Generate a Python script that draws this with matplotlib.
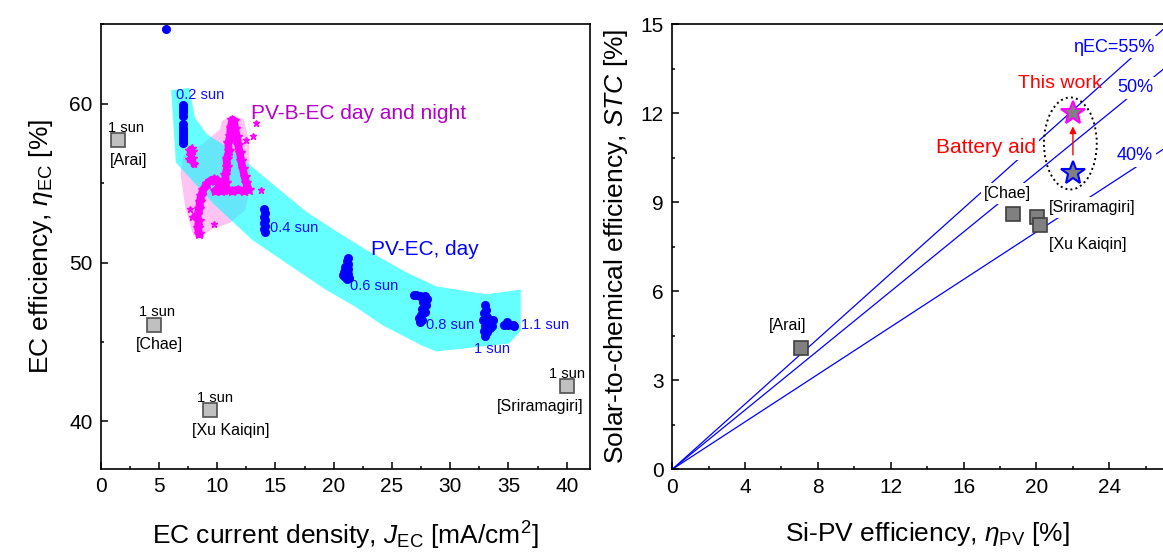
import numpy as np
import matplotlib.pyplot as plt
from matplotlib.patches import Polygon, Ellipse
from matplotlib.ticker import MultipleLocator

plt.rcParams['font.family'] = ['Liberation Sans', 'DejaVu Sans']
plt.rcParams['mathtext.fontset'] = 'custom'
plt.rcParams['mathtext.rm'] = 'Liberation Sans'
plt.rcParams['mathtext.it'] = 'Liberation Sans:italic'
plt.rcParams['mathtext.bf'] = 'Liberation Sans:bold'

# ---------------- left panel data ----------------
# literature points (1 sun)
ref_names = ['[Arai]', '[Chae]', '[Xu Kaiqin]', '[Sriramagiri]']
ref_j = [1.5, 4.6, 9.4, 40.0]
ref_eta = [57.7, 46.1, 40.7, 42.2]

# shaded band for PV-EC day
band_x = [6.05, 7.6, 8.1, 9.1, 11.4, 14.35, 17.65, 19.95, 22.9, 26.2, 28.8, 33.1, 36.05,
          36.05, 35.05, 28.8, 27.5, 24.2, 21.9, 19.3, 13.05, 9.75, 6.45]
band_y = [60.85, 61.0, 59.1, 58.1, 57.0, 55.2, 53.2, 52.1, 50.75, 49.4, 48.5, 48.0, 48.3,
          45.7, 44.9, 44.4, 44.8, 46.05, 47.2, 48.3, 51.4, 53.65, 56.3]

# shaded blob for PV-B-EC
blob_x = [10.4, 11.1, 12.25, 12.75, 12.8, 12.4, 11.1, 9.7, 8.5, 7.95, 7.25, 6.85, 7.1, 8.8, 10.25]
blob_y = [58.9, 59.25, 59.05, 57.7, 54.6, 53.3, 52.5, 52.15, 51.65, 51.7, 53.5, 55.6, 56.8, 57.5, 58.4]

# PV-EC day measured points, grouped by illumination
day_labels = ['0.2 sun', '0.4 sun', '0.6 sun', '0.8 sun', '1 sun', '1.1 sun']
day_x = [
    [5.6, 7.05, 7.1, 7.05, 7.1, 7.05, 7.05, 7.1, 7.05, 7.1, 7.05, 7.1, 7.05],
    [14.05, 14.1, 14.0, 14.1, 14.05, 14.1, 14.0, 14.1],
    [21.2, 21.1, 21.2, 21.0, 21.2, 20.9, 21.2, 21.0, 21.3, 21.1, 20.8],
    [26.85, 27.1, 27.4, 27.8, 28.0, 27.7, 27.9, 27.6, 27.8, 27.5, 27.3, 27.6, 27.4],
    [33.0, 33.1, 32.9, 33.2, 32.85, 33.1, 33.5, 33.0, 33.4, 32.9, 33.2, 33.0, 33.6, 33.65],
    [35.4, 35.5, 35.35, 34.6, 34.85, 35.0],
]
day_y = [
    [64.7, 59.95, 59.8, 59.65, 59.5, 59.2, 58.7, 58.5, 58.3, 58.1, 57.9, 57.7, 57.55],
    [53.35, 53.1, 52.9, 52.7, 52.5, 52.3, 52.1, 51.95],
    [50.3, 50.1, 49.9, 49.7, 49.6, 49.4, 49.3, 49.1, 49.0, 48.95, 49.2],
    [47.95, 47.95, 47.9, 47.9, 47.7, 47.5, 47.3, 47.1, 46.9, 46.7, 46.5, 46.4, 46.25],
    [47.3, 47.0, 46.8, 46.6, 46.4, 46.3, 46.3, 46.0, 45.9, 45.7, 45.6, 45.4, 46.0, 46.4],
    [46.05, 46.0, 46.1, 46.05, 46.25, 46.1],
]

# PV-B-EC day and night trajectory (main track, early cluster, stray points)
track_x = [8.45, 8.35, 8.4, 8.3, 8.45, 8.5, 8.6, 8.8, 9.1, 9.4, 9.7, 10.0, 10.2, 10.0, 9.8,
           10.3, 10.6, 10.75, 10.7, 10.85, 10.8, 11.0, 10.95, 11.1, 11.15, 11.3, 11.45, 11.55,
           11.7, 11.8, 11.95, 12.05, 12.2, 12.35, 12.5, 12.7, 12.3, 11.8, 11.3, 10.9]
track_y = [51.8, 52.2, 52.6, 53.0, 53.4, 53.8, 54.2, 54.6, 54.95, 55.15, 55.25, 55.2, 54.9, 54.6, 54.5,
           54.5, 54.6, 55.0, 55.5, 56.0, 56.5, 57.0, 57.5, 58.0, 58.5, 59.0, 58.9, 58.4,
           57.9, 57.4, 56.9, 56.4, 55.9, 55.4, 55.0, 54.6, 54.5, 54.6, 54.5, 54.6]
early_x = [7.8, 7.6, 7.9, 7.7, 7.9, 7.6, 7.9, 8.0]
early_y = [57.2, 57.1, 57.0, 56.8, 56.6, 56.5, 56.3, 56.2]
stray_x = [7.7, 7.8, 9.7, 13.75, 12.5, 13.1, 13.3]
stray_y = [53.4, 52.9, 52.4, 54.6, 57.7, 57.95, 58.8]

# ---------------- right panel data ----------------
pv_names = ['[Arai]', '[Chae]', '[Sriramagiri]', '[Xu Kaiqin]']
pv_eff = [7.06, 18.69, 20.01, 20.19]
stc_eff = [4.1, 8.62, 8.49, 8.23]
ec_lines = [55, 50, 40]
ec_line_labels = ['\u03b7EC=55%', '50%', '40%']
work_pv = 22.0
work_stc_day = 10.0
work_stc_batt = 12.0

fig = plt.figure(figsize=(11.63, 5.53), dpi=100)

# ================= left panel =================
ax = fig.add_axes([0.0866, 0.1519, 0.4207, 0.804])
ax.add_patch(Polygon(np.column_stack([blob_x, blob_y]), closed=True,
                     facecolor='#ffc4f2', edgecolor='none', zorder=1))
ax.add_patch(Polygon(np.column_stack([band_x, band_y]), closed=True,
                     facecolor='#00ffff', alpha=0.6, edgecolor='none', zorder=2))

for xs, ys in zip(day_x, day_y):
    ax.plot(xs, ys, ls='none', marker='o', ms=5.5, color='#0000ff', mec='#0000ff', zorder=4)
ax.plot(track_x, track_y, '-', color='#ff00ff', lw=5.5, marker='*', ms=7, zorder=3)
ax.plot(early_x, early_y, '-', color='#ff00ff', lw=4, marker='*', ms=6, zorder=3)
ax.plot(stray_x, stray_y, ls='none', marker='*', ms=5, color='#ff00ff', zorder=3)

ax.plot(ref_j, ref_eta, ls='none', marker='s', ms=10, mfc='#c0c0c0', mec='#505050', mew=1.2, zorder=5)
sun_off = [(5.6, 9), (2.2, 9), (3.5, 9), (0.5, 9)]
name_off = [(7.8, -14.5), (3.7, -14.5), (15, -14.5), (-19, -14.5)]
for i, name in enumerate(ref_names):
    ax.annotate('1 sun', (ref_j[i], ref_eta[i]), xytext=sun_off[i], textcoords='offset points',
                ha='center', va='center', fontsize=10.5)
    ax.annotate(name, (ref_j[i], ref_eta[i]), xytext=name_off[i], textcoords='offset points',
                ha='center', va='center', fontsize=11.5)

day_lab_pos = [(6.46, 60.55, 'left'), (14.5, 52.2, 'left'), (21.4, 48.5, 'left'),
               (27.9, 46.1, 'left'), (33.6, 44.55, 'center'), (36.1, 46.1, 'left')]
for lab, (tx, ty, ha) in zip(day_labels, day_lab_pos):
    ax.text(tx, ty, lab, color='#1010ff', fontsize=10.5, ha=ha, va='center', zorder=6)

ax.text(12.9, 59.4, 'PV-B-EC day and night', color='#b400c8', fontsize=15, va='center')
ax.text(23.2, 50.8, 'PV-EC, day', color='#0000ff', fontsize=15, va='center')

ax.set_xlim(0, 42)
ax.set_ylim(37, 65)
ax.xaxis.set_major_locator(MultipleLocator(5))
ax.xaxis.set_minor_locator(MultipleLocator(2.5))
ax.set_yticks([40, 50, 60])
ax.yaxis.set_minor_locator(MultipleLocator(5))
ax.set_xlabel('EC current density, $J_{\\mathrm{EC}}$ [mA/cm$^2$]', fontsize=19, labelpad=17)
ax.set_ylabel('EC efficiency, $\\eta_{\\mathrm{EC}}$ [%]', fontsize=19, labelpad=10)

# ================= right panel =================
bx = fig.add_axes([0.578, 0.1513, 0.4385, 0.805])
xl = np.array([0, 30])
for eta in ec_lines:
    bx.plot(xl, xl * eta / 100, color='#0000ff', lw=0.9, zorder=1)

bx.plot(pv_eff, stc_eff, ls='none', marker='s', ms=10, mfc='#808080', mec='#404040', mew=1.2, zorder=4)
box = dict(facecolor='white', edgecolor='none', pad=2)
pv_off = [(-9.6, 15.7, 'center'), (-3.9, 14.4, 'center'), (9, 7.2, 'left'), (6.3, -14.2, 'left')]
for i, name in enumerate(pv_names):
    dx, dy, ha = pv_off[i]
    bx.annotate(name, (pv_eff[i], stc_eff[i]), xytext=(dx, dy), textcoords='offset points',
                ha=ha, va='center', fontsize=11.5, bbox=box, zorder=3)

bx.text(26.45, 14.23, ec_line_labels[0], color='#0000ff', fontsize=13, ha='right', va='center', bbox=box, zorder=3)
bx.text(26.4, 12.85, ec_line_labels[1], color='#0000ff', fontsize=13, ha='right', va='center', bbox=box, zorder=3)
bx.text(26.4, 10.56, ec_line_labels[2], color='#0000ff', fontsize=13, ha='right', va='center', bbox=box, zorder=3)

bx.add_patch(Ellipse((21.86, 10.98), 2.9, 3.1, fill=False, ls=':', lw=1.4, ec='black', zorder=5))
bx.annotate('', xy=(work_pv, 11.65), xytext=(work_pv, 10.5),
            arrowprops=dict(arrowstyle='-|>', color='red', lw=1.0, mutation_scale=10), zorder=5)
bx.plot([work_pv], [work_stc_batt], ls='none', marker='*', ms=18, mfc='#808080', mec='#ff00ff', mew=1.5, zorder=6)
bx.plot([work_pv], [work_stc_day], ls='none', marker='*', ms=18, mfc='#808080', mec='#0000ff', mew=1.5, zorder=6)
bx.text(21.3, 13.0, 'This work', color='red', fontsize=14, ha='center', va='center', zorder=2)
bx.text(20.0, 10.85, 'Battery aid', color='red', fontsize=15, ha='right', va='center', bbox=box, zorder=3)

bx.set_xlim(0, 28)
bx.set_ylim(0, 15)
bx.set_xticks([0, 4, 8, 12, 16, 20, 24])
bx.xaxis.set_minor_locator(MultipleLocator(2))
bx.yaxis.set_major_locator(MultipleLocator(3))
bx.yaxis.set_minor_locator(MultipleLocator(1.5))
bx.set_xlabel('Si-PV efficiency, $\\eta_{\\mathrm{PV}}$ [%]', fontsize=19, labelpad=17)
bx.set_ylabel('Solar-to-chemical efficiency, $\\mathit{STC}$ [%]', fontsize=19, labelpad=8)

for a in (ax, bx):
    for s in a.spines.values():
        s.set_linewidth(1.2)
    a.tick_params(which='both', direction='in', top=False, right=False, labelsize=15, pad=6, width=1.1)
    a.tick_params(which='major', length=5)
    a.tick_params(which='minor', length=2.5)

fig.savefig('out.png', dpi=100)
